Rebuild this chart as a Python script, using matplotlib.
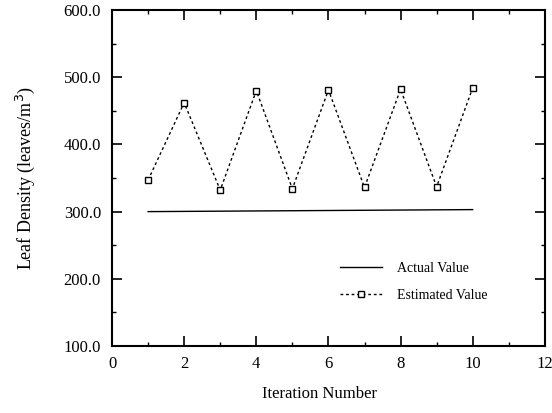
import matplotlib
matplotlib.use("Agg")
import matplotlib.pyplot as plt
from matplotlib.ticker import MultipleLocator, FormatStrFormatter

# iteration data
iterations = [1, 2, 3, 4, 5, 6, 7, 8, 9, 10]
estimated = [347, 462, 332, 480, 334, 481, 336, 482, 337, 484]
actual_x = [1, 10]
actual = [300, 303]

plt.rcParams["font.family"] = ["Liberation Serif", "DejaVu Serif"]

fig = plt.figure(figsize=(5.52, 4.13), dpi=100)
ax = fig.add_axes([0.203, 0.162, 0.784, 0.814])

ax.plot(actual_x, actual, color="black", lw=1.0, label="Actual Value")
ax.plot(iterations, estimated, color="black", lw=1.0, ls=(0, (2, 2)),
        marker="s", ms=5, mfc="white", mec="black", mew=1.0,
        label="Estimated Value")

ax.set_xlim(0, 12)
ax.set_ylim(100, 600)
ax.xaxis.set_major_locator(MultipleLocator(2))
ax.xaxis.set_minor_locator(MultipleLocator(1))
ax.yaxis.set_major_locator(MultipleLocator(100))
ax.yaxis.set_minor_locator(MultipleLocator(50))
ax.yaxis.set_major_formatter(FormatStrFormatter("%.1f"))

ax.tick_params(which="both", direction="in", top=True, right=True, labelsize=12)
ax.tick_params(which="major", length=7, width=1.2)
ax.tick_params(which="minor", length=3, width=1.0)
ax.tick_params(axis="y", which="major", pad=8)
ax.tick_params(axis="x", which="major", pad=7)
for s in ax.spines.values():
    s.set_linewidth(1.5)

ax.set_xlabel("Iteration Number", fontsize=12)
ax.xaxis.set_label_coords(0.48, -0.12)
ax.set_ylabel("Leaf Density (leaves/m$^3$)", fontsize=13)
ax.yaxis.set_label_coords(-0.173, 0.5)

ax.legend(loc="upper left", bbox_to_anchor=(0.527, 0.25), frameon=False,
          borderpad=0, borderaxespad=0, fontsize=10, handlelength=3.0,
          labelspacing=1.0, handletextpad=1.1)

fig.savefig("out.png", dpi=100)
